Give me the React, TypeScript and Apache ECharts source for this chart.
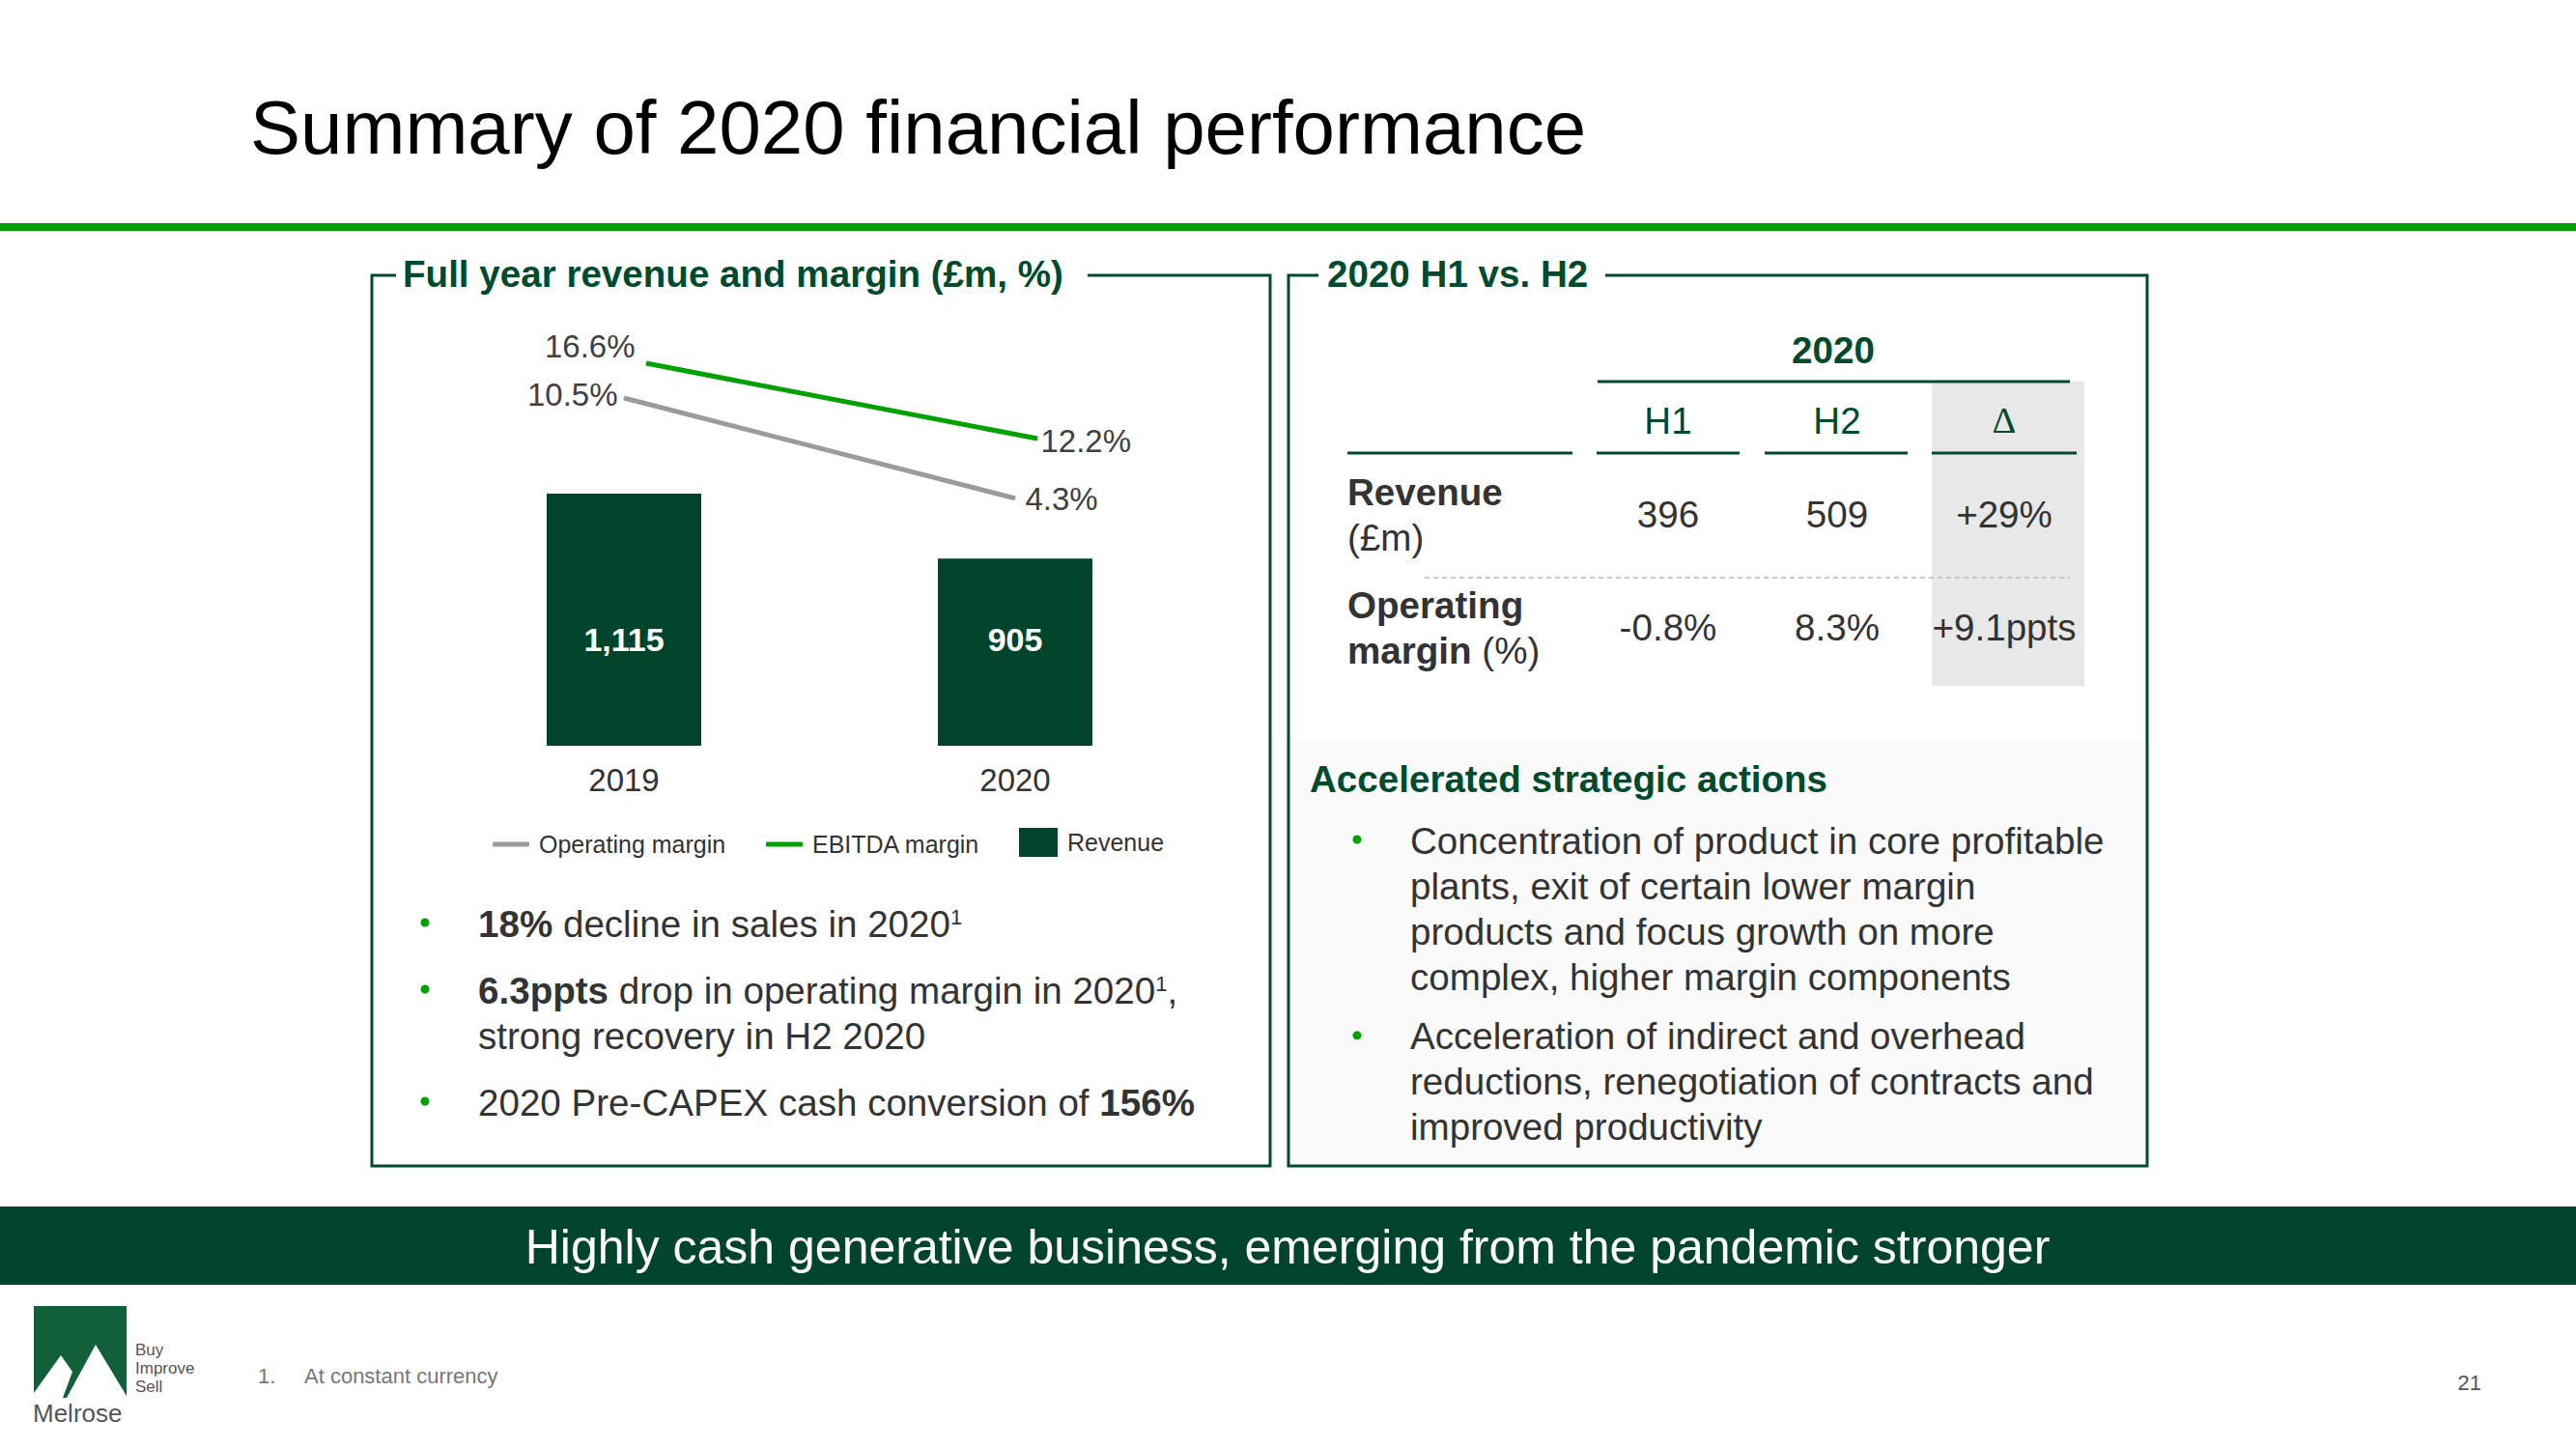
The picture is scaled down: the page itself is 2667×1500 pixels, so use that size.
import React, { useEffect, useRef } from 'react';
import * as echarts from 'echarts';

const FONT = "'Liberation Sans', Arial, Helvetica, sans-serif";
const DARK = '#004B2D';
const BAR = '#00452B';
const BRIGHT = '#00A100';
const GRAY_LINE = '#9B9B9B';
const TEXT = '#333333';
const BODY = 38.6;

// ---- data ----
const years = ['2019', '2020'];
const revenue = [1115, 905];
const operatingMargin = [10.5, 4.3];
const ebitdaMargin = [16.6, 12.2];

const tableYear = '2020';
const tableHeaders = ['H1', 'H2', 'Δ'];
const revenueRow = ['396', '509', '+29%'];
const marginRow = ['-0.8%', '8.3%', '+9.1ppts'];

const leftBullets = [
  ['{b|18%}{r| decline in sales in 2020}{s|1}'],
  ['{b|6.3ppts}{r| drop in operating margin in 2020}{s|1}{r|,}', '{r|strong recovery in H2 2020}'],
  ['{r|2020 Pre-CAPEX cash conversion of }{b|156%}'],
];
const rightBullets = [
  ['Concentration of product in core profitable', 'plants, exit of certain lower margin', 'products and focus growth on more', 'complex, higher margin components'],
  ['Acceleration of indirect and overhead', 'reductions, renegotiation of contracts and', 'improved productivity'],
];

const fmtThousands = (v: number) => String(v).replace(/\B(?=(\d{3})+(?!\d))/g, ',');

function txt(x: number, y: number, text: string, opts: any = {}) {
  const align = opts.align || 'left';
  const va = opts.va || 'middle';
  return {
    type: 'text',
    x,
    y,
    silent: true,
    style: {
      text,
      fill: opts.fill || TEXT,
      fontSize: opts.size || BODY,
      fontWeight: opts.weight || 'normal',
      fontFamily: opts.family || FONT,
      align,
      verticalAlign: va,
      textAlign: align,
      textVerticalAlign: va,
      rich: opts.rich,
      lineHeight: opts.lineHeight,
    },
  };
}

function hline(x1: number, x2: number, y: number, color: string, w: number, dash?: number[]) {
  return {
    type: 'line',
    silent: true,
    shape: { x1, y1: y, x2, y2: y },
    style: { stroke: color, lineWidth: w, lineDash: dash },
  };
}

export default function App() {
  const ref = useRef<HTMLDivElement>(null);

  useEffect(() => {
    document.body.style.margin = '0';
    document.body.style.overflow = 'hidden';
    const chart = echarts.init(ref.current!, null, { renderer: 'svg' });

    const richBullet = {
      r: { fontSize: BODY, fontFamily: FONT, fill: TEXT, color: TEXT, lineHeight: 47 },
      b: { fontSize: BODY, fontFamily: FONT, fontWeight: 'bold', fill: TEXT, color: TEXT, lineHeight: 47 },
      s: { fontSize: 22, fontFamily: FONT, fill: TEXT, color: TEXT, verticalAlign: 'top', padding: [6, 0, 0, 0] },
    };

    const graphics: any[] = [];
    // title + rule
    graphics.push(txt(259, 132, 'Summary of 2020 financial performance', { size: 78, fill: '#000' }));
    graphics.push({ type: 'rect', silent: true, shape: { x: 0, y: 231, width: 2667, height: 8 }, style: { fill: BRIGHT } });

    // left box
    graphics.push({
      type: 'polyline', silent: true,
      shape: { points: [[410, 285], [385, 285], [385, 1207], [1315, 1207], [1315, 285], [1126, 285]] },
      style: { stroke: DARK, lineWidth: 3, fill: null },
    });
    graphics.push(txt(417, 283, 'Full year revenue and margin (£m, %)', { weight: 'bold', fill: DARK, size: 38.6 }));

    // right box
    graphics.push({ type: 'rect', silent: true, shape: { x: 1336, y: 768, width: 886, height: 437 }, style: { fill: '#FAFAFA' } });
    graphics.push({
      type: 'polyline', silent: true,
      shape: { points: [[1365, 285], [1334, 285], [1334, 1207], [2223, 1207], [2223, 285], [1662, 285]] },
      style: { stroke: DARK, lineWidth: 3, fill: null },
    });
    graphics.push(txt(1374, 283, '2020 H1 vs. H2', { weight: 'bold', fill: DARK }));

    // table
    const colX = [1727, 1902, 2075];
    graphics.push({ type: 'rect', silent: true, shape: { x: 2000, y: 395, width: 158, height: 315 }, style: { fill: '#E8E8E8' } });
    graphics.push(txt(1898, 362, tableYear, { weight: 'bold', fill: DARK, align: 'center' }));
    graphics.push(hline(1654, 2143, 395, DARK, 3));
    tableHeaders.forEach((h, i) => {
      graphics.push(txt(colX[i], 435, h, { fill: DARK, align: 'center', family: h === 'Δ' ? "'Liberation Serif', 'Times New Roman', serif" : FONT }));
    });
    [[1395, 1628], [1653, 1801], [1827, 1975], [2000, 2150]].forEach(([a, b]) => graphics.push(hline(a, b, 469, DARK, 3)));
    graphics.push(txt(1395, 486, '{b|Revenue}\n{r|(£m)}', { va: 'top', rich: richBullet }));
    graphics.push(txt(1395, 603, '{b|Operating}\n{b|margin}{r| (%)}', { va: 'top', rich: richBullet }));
    revenueRow.forEach((v, i) => graphics.push(txt(colX[i], 532, v, { align: 'center' })));
    marginRow.forEach((v, i) => graphics.push(txt(colX[i], 649, v, { align: 'center' })));
    graphics.push(hline(1475, 2143, 598, '#BBBBBB', 1.5, [5, 4]));

    // accelerated actions
    graphics.push(txt(1356, 806, 'Accelerated strategic actions', { weight: 'bold', fill: DARK }));
    let ry = 870;
    rightBullets.forEach((lines) => {
      graphics.push({ type: 'circle', silent: true, shape: { cx: 1405, cy: ry - 1, r: 4.5 }, style: { fill: BRIGHT } });
      graphics.push(txt(1460, ry - 23.5, lines.map((l) => `{r|${l}}`).join('\n'), { va: 'top', rich: richBullet }));
      ry += lines.length * 46.7 + 16;
    });

    // left bullets
    const leftY = [956, 1025, 1141];
    leftBullets.forEach((lines, i) => {
      graphics.push({ type: 'circle', silent: true, shape: { cx: 440, cy: leftY[i] - 1, r: 4.5 }, style: { fill: BRIGHT } });
      graphics.push(txt(495, leftY[i] - 23.5, lines.join('\n'), { va: 'top', rich: richBullet }));
    });

    // banner
    graphics.push({ type: 'rect', silent: true, shape: { x: 0, y: 1249, width: 2667, height: 81 }, style: { fill: BAR } });
    graphics.push(txt(1333, 1291, 'Highly cash generative business, emerging from the pandemic stronger', { size: 50, fill: '#FFFFFF', align: 'center' }));

    // logo
    graphics.push({ type: 'rect', silent: true, shape: { x: 35, y: 1352, width: 96, height: 95 }, style: { fill: '#12603A' } });
    graphics.push({ type: 'polygon', silent: true, shape: { points: [[35, 1442], [63, 1403], [75, 1420], [65, 1447], [35, 1447]] }, style: { fill: '#FFFFFF' } });
    graphics.push({ type: 'polygon', silent: true, shape: { points: [[69, 1447], [99, 1392], [131, 1445], [131, 1447]] }, style: { fill: '#FFFFFF' } });
    graphics.push(txt(140, 1397, 'Buy', { size: 17, fill: '#555' }));
    graphics.push(txt(140, 1416, 'Improve', { size: 17, fill: '#555' }));
    graphics.push(txt(140, 1435, 'Sell', { size: 17, fill: '#555' }));
    graphics.push(txt(34, 1463, 'Melrose', { size: 26, fill: '#555' }));

    // footnote & page number
    graphics.push(txt(267, 1424, '1.', { size: 22, fill: '#777' }));
    graphics.push(txt(315, 1424, 'At constant currency', { size: 22, fill: '#777' }));
    graphics.push(txt(2569, 1431, '21', { size: 22, fill: '#555', align: 'right' }));

    const opLabels = [
      { position: 'left', distance: 6, offset: [0, -4] },
      { position: 'right', distance: 10, offset: [0, 1] },
    ];
    const ebLabels = [
      { position: 'left', distance: 11, offset: [0, -18] },
      { position: 'right', distance: 3, offset: [0, 2] },
    ];
    const lineLabel = {
      show: true,
      fontSize: 33,
      fontFamily: FONT,
      color: '#404040',
      formatter: (p: any) => `${Number(p.value).toFixed(1)}%`,
    };
    const legendText = { fontSize: 25, fontFamily: FONT, color: TEXT, padding: [0, 0, 0, 5] };

    chart.setOption({
      animation: false,
      backgroundColor: '#FFFFFF',
      textStyle: { fontFamily: FONT },
      grid: [
        { left: 443.5, top: 330, width: 810, height: 442 },
        { left: 466.5, top: 330, width: 810, height: 442 },
      ],
      xAxis: [
        {
          type: 'category', gridIndex: 0, data: years,
          axisLine: { show: false }, axisTick: { show: false }, splitLine: { show: false },
          axisLabel: { fontSize: 33, color: TEXT, margin: 19, fontFamily: FONT },
        },
        { type: 'category', gridIndex: 1, data: years, show: false },
      ],
      yAxis: [
        { type: 'value', gridIndex: 0, min: 300, max: 1680, show: false },
        { type: 'value', gridIndex: 0, min: -11, max: 15.4, show: false },
        { type: 'value', gridIndex: 1, min: -5.74, max: 19.2, show: false },
      ],
      legend: [
        { data: ['Operating margin'], left: 510, top: 861.5, padding: 0, icon: 'roundRect', itemWidth: 38, itemHeight: 5, selectedMode: false, textStyle: legendText },
        { data: ['EBITDA margin'], left: 793, top: 861.5, padding: 0, icon: 'roundRect', itemWidth: 38, itemHeight: 5, selectedMode: false, textStyle: legendText },
        { data: ['Revenue'], left: 1055, top: 857, padding: 0, icon: 'rect', itemWidth: 40, itemHeight: 30, selectedMode: false, textStyle: legendText },
      ],
      series: [
        {
          type: 'bar', name: 'Revenue', data: revenue, xAxisIndex: 0, yAxisIndex: 0,
          barWidth: 160, itemStyle: { color: BAR },
          label: {
            show: true, position: 'insideBottom', distance: 93, color: '#FFFFFF',
            fontWeight: 'bold', fontSize: 34, fontFamily: FONT,
            formatter: (p: any) => fmtThousands(p.value),
          },
          emphasis: { disabled: true },
        },
        {
          type: 'line', name: 'Operating margin', xAxisIndex: 0, yAxisIndex: 1,
          data: operatingMargin.map((v, i) => ({ value: v, label: opLabels[i] })),
          symbol: 'circle', symbolSize: 1, showSymbol: true,
          lineStyle: { color: GRAY_LINE, width: 5, cap: 'butt' },
          itemStyle: { color: GRAY_LINE },
          label: lineLabel,
          emphasis: { disabled: true },
        },
        {
          type: 'line', name: 'EBITDA margin', xAxisIndex: 1, yAxisIndex: 2,
          data: ebitdaMargin.map((v, i) => ({ value: v, label: ebLabels[i] })),
          symbol: 'circle', symbolSize: 1, showSymbol: true,
          lineStyle: { color: BRIGHT, width: 5, cap: 'butt' },
          itemStyle: { color: BRIGHT },
          label: lineLabel,
          emphasis: { disabled: true },
        },
      ],
      graphic: graphics,
    });

    return () => chart.dispose();
  }, []);

  return (
    <div
      ref={ref}
      style={{ position: 'absolute', left: 0, top: 0, width: 2667, height: 1500, background: '#fff' }}
    />
  );
}
